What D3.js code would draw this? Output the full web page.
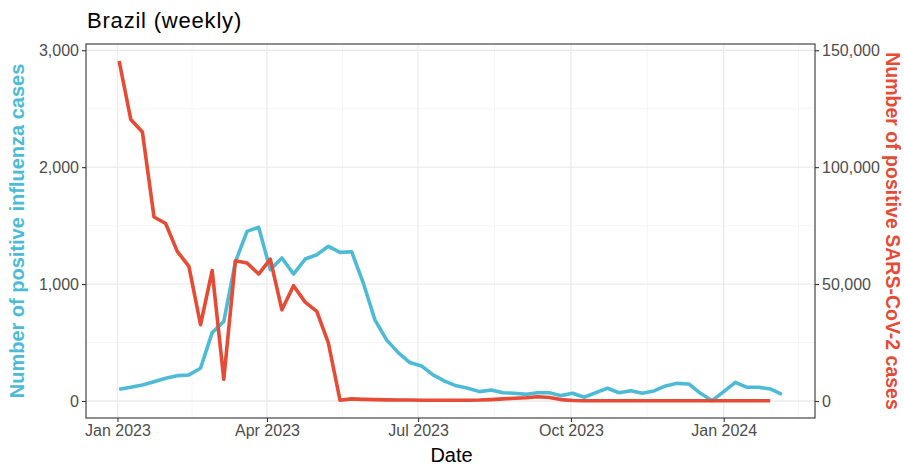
<!DOCTYPE html>
<html><head><meta charset="utf-8">
<script src="https://cdn.jsdelivr.net/npm/d3@7"></script>
<style>
body{margin:0;background:#fff}
text{font-family:"Liberation Sans",Arial,Helvetica,sans-serif}
</style>
</head><body>
<svg id="chart" width="904" height="468"></svg>
<script>
// ---- data ----
const titleText = "Brazil (weekly)";
const startWeek = "2023-01-02";
const influenza = [100,117,137,165,194,217,223,280,585,680,
  1190,1451,1486,1123,1223,1086,1214,1251,1323,1271,
  1277,1009,694,523,414,329,300,223,170,130,
  109,80,94,71,66,57,71,71,46,66,
  32,71,109,71,88,66,86,129,151,146,
  66,3,80,160,117,117,103,57];
const sarsCov2 = [145400,120400,115000,78700,75900,64000,57600,32600,55800,9300,
  60000,59000,54300,60700,39000,49300,42300,38300,24700,300,
  900,700,600,500,450,400,350,300,300,300,
  350,400,600,900,1200,1400,1800,1500,600,200,
  100,100,100,100,100,100,100,100,100,100,
  100,100,100,100,100,100,100];
const secondaryFactor = 50;
const leftTicks = [0,1000,2000,3000];
const rightTicks = [0,50000,100000,150000];
const xTickDates = ["2023-01-01","2023-04-01","2023-07-01","2023-10-01","2024-01-01"];
const xTickLabels = ["Jan 2023","Apr 2023","Jul 2023","Oct 2023","Jan 2024"];
const yLabelLeft = "Number of positive influenza cases";
const yLabelRight = "Number of positive SARS-CoV-2 cases";
const xLabel = "Date";
const colInf = "#4DBBD5", colCov = "#E64B35";

// ---- layout ----
const svg = d3.select("#chart");
const P = {l:86, r:815, t:44, b:418};
const parse = d3.utcParse("%Y-%m-%d");
const start = parse(startWeek);
const dates = influenza.map((_,i)=>d3.utcDay.offset(start, 7*i));
const infData = influenza.map((v,i)=>({d:dates[i], v}));
const covData = sarsCov2.map((v,i)=>({d:dates[i], v:v/secondaryFactor}));

const xExt = d3.extent(dates);
const xs = xExt[1]-xExt[0];
const x = d3.scaleUtc().domain([new Date(+xExt[0]-0.05*xs), new Date(+xExt[1]+0.05*xs)]).range([P.l,P.r]);
const yMax = Math.max(d3.max(influenza), d3.max(sarsCov2)/secondaryFactor);
const y = d3.scaleLinear().domain([-0.05*yMax, 1.05*yMax]).range([P.b,P.t]);
const y2 = d3.scaleLinear().domain(y.domain().map(v=>v*secondaryFactor)).range([P.b,P.t]);

const tickDates = xTickDates.map(parse);
// grid
const g = svg.append("g");
const minorY = leftTicks.slice(0,-1).map((t,i)=>(t+leftTicks[i+1])/2);
const minorX = [];
for(let i=0;i<tickDates.length-1;i++) minorX.push(new Date((+tickDates[i]+ +tickDates[i+1])/2));
minorX.push(new Date(+tickDates[tickDates.length-1] + (+tickDates[1]- +tickDates[0])/2));
minorX.unshift(new Date(+tickDates[0] - (+tickDates[1]- +tickDates[0])/2));
g.selectAll(".mx").data(minorX.filter(d=>x(d)>P.l&&x(d)<P.r)).join("line")
  .attr("x1",d=>x(d)).attr("x2",d=>x(d)).attr("y1",P.t).attr("y2",P.b)
  .attr("stroke","#F2F2F2").attr("stroke-width",0.7);
g.selectAll(".my").data(minorY).join("line")
  .attr("x1",P.l).attr("x2",P.r).attr("y1",d=>y(d)).attr("y2",d=>y(d))
  .attr("stroke","#F2F2F2").attr("stroke-width",0.7);
g.selectAll(".Mx").data(tickDates).join("line")
  .attr("x1",d=>x(d)).attr("x2",d=>x(d)).attr("y1",P.t).attr("y2",P.b)
  .attr("stroke","#EBEBEB").attr("stroke-width",1.3);
g.selectAll(".My").data(leftTicks).join("line")
  .attr("x1",P.l).attr("x2",P.r).attr("y1",d=>y(d)).attr("y2",d=>y(d))
  .attr("stroke","#EBEBEB").attr("stroke-width",1.3);

// lines
const line = d3.line().x(d=>x(d.d)).y(d=>y(d.v));
svg.append("path").datum(infData).attr("d",line).attr("fill","none")
  .attr("stroke",colInf).attr("stroke-width",3.6).attr("stroke-linejoin","round");
svg.append("path").datum(covData).attr("d",line).attr("fill","none")
  .attr("stroke",colCov).attr("stroke-width",3.6).attr("stroke-linejoin","round");

// border
svg.append("rect").attr("x",P.l).attr("y",P.t).attr("width",P.r-P.l).attr("height",P.b-P.t)
  .attr("fill","none").attr("stroke","#333333").attr("stroke-width",1.1);

// axes
const fmt = d3.format(",");
function styleAxis(sel){
  sel.select(".domain").remove();
  sel.selectAll(".tick line").attr("stroke","#333333").attr("stroke-width",1.1);
  sel.selectAll(".tick text").attr("fill","#4D4D4D").style("font-size","16px")
     .style("font-family",'"Liberation Sans",Arial,sans-serif');
}
svg.append("g").attr("transform",`translate(${P.l},0)`)
  .call(d3.axisLeft(y).tickValues(leftTicks).tickFormat(fmt).tickSize(4).tickPadding(3)).call(styleAxis);
svg.append("g").attr("transform",`translate(${P.r},0)`)
  .call(d3.axisRight(y2).tickValues(rightTicks).tickFormat(fmt).tickSize(4).tickPadding(3)).call(styleAxis);
svg.append("g").attr("transform",`translate(0,${P.b})`)
  .call(d3.axisBottom(x).tickValues(tickDates).tickFormat((d,i)=>xTickLabels[i]).tickSize(4).tickPadding(3)).call(styleAxis);

// titles
svg.append("text").attr("x",P.l+1).attr("y",28).text(titleText)
  .style("font-size","22px").style("letter-spacing","0.8px").attr("fill","#000");
svg.append("text").attr("x",(P.l+P.r)/2+1).attr("y",462).attr("text-anchor","middle")
  .text(xLabel).style("font-size","20px").attr("fill","#000");
svg.append("text").attr("transform",`translate(24,${(P.t+P.b)/2}) rotate(-90)`)
  .attr("text-anchor","middle").text(yLabelLeft)
  .style("font-size","20px").style("font-weight","bold").attr("fill",colInf);
svg.append("text").attr("transform",`translate(886,${(P.t+P.b)/2}) rotate(90)`)
  .attr("text-anchor","middle").text(yLabelRight)
  .style("font-size","19.5px").style("font-weight","bold").attr("fill",colCov);
</script>
</body></html>
